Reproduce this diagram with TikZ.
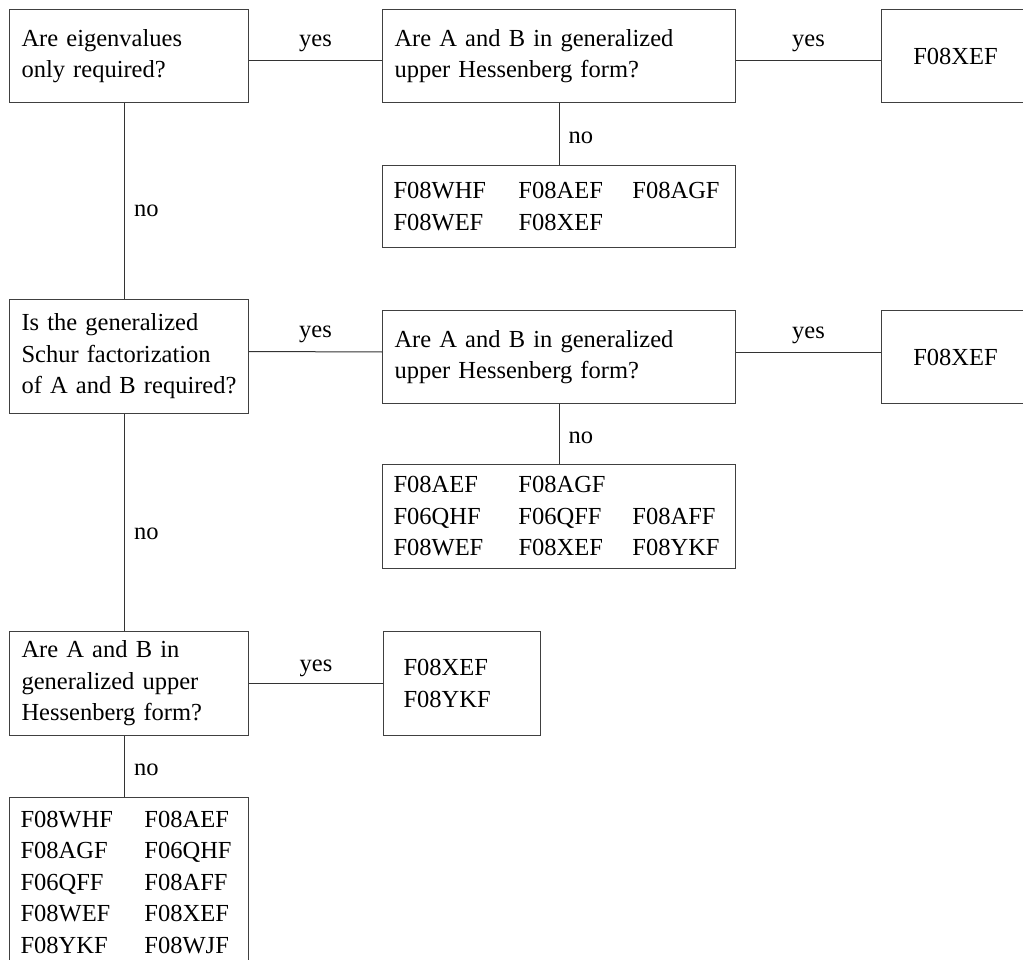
\documentclass[tikz,border=0pt]{standalone}
\usepackage{fontspec}
\setmainfont{Liberation Serif}
\newcommand\myfs{\fontsize{24.5}{31.5}\selectfont}
\begin{document}
\begin{tikzpicture}[x=1pt,y=-1pt,
  box/.style={draw=black!75, line width=1pt, anchor=north west, inner xsep=12pt, inner ysep=0pt, align=left, font=\myfs},
  lbl/.style={inner sep=0pt, font=\myfs},
  conn/.style={draw=black!80, line width=1pt}]
\useasboundingbox (0,0) rectangle (1023,960);
% row 1
\node[box, minimum height=93pt, text width=215pt] (q1) at (9,9) {Are eigenvalues\\only required?};
\node[box, minimum height=93pt, text width=329pt, inner xsep=12pt] (q2) at (382,9) {Are A and B in generalized\\upper Hessenberg form?};
\node[box, minimum height=93pt, text width=124pt, align=center] (r1) at (881,9) {F08XEF};
\node[box, minimum height=82pt, text width=331pt, inner xsep=11pt] (l1) at (382,165)
 {\makebox[125pt][l]{F08WHF}\makebox[114pt][l]{F08AEF}F08AGF\\
  \makebox[125pt][l]{F08WEF}\makebox[114pt][l]{F08XEF}};
% row 2
\node[box, minimum height=114pt, text width=215pt] (q3) at (9,299) {Is the generalized\\Schur factorization\\of A and B required?};
\node[box, minimum height=93pt, text width=329pt] (q4) at (382,310) {Are A and B in generalized\\upper Hessenberg form?};
\node[box, minimum height=93pt, text width=124pt, align=center] (r2) at (881,310) {F08XEF};
\node[box, minimum height=104pt, text width=331pt, inner xsep=11pt] (l2) at (382,464)
 {\makebox[125pt][l]{F08AEF}\makebox[114pt][l]{F08AGF}\\
  \makebox[125pt][l]{F06QHF}\makebox[114pt][l]{F06QFF}F08AFF\\
  \makebox[125pt][l]{F08WEF}\makebox[114pt][l]{F08XEF}F08YKF};
% row 3
\node[box, minimum height=104pt, text width=215pt] (q5) at (9,631) {Are A and B in\\generalized upper\\Hessenberg form?};
\node[box, minimum height=104pt, text width=117pt, inner xsep=20pt] (r3) at (383,631) {F08XEF\\F08YKF};
\node[box, minimum height=170pt, text width=217pt, inner xsep=11pt] (l3) at (9,797)
 {\makebox[124pt][l]{F08WHF}F08AEF\\
  \makebox[124pt][l]{F08AGF}F06QHF\\
  \makebox[124pt][l]{F06QFF}F08AFF\\
  \makebox[124pt][l]{F08WEF}F08XEF\\
  \makebox[124pt][l]{F08YKF}F08WJF};
% connectors
\draw[conn] ([yshift=-4.5pt]q1.east) -- node[lbl, yshift=17pt]{yes} ([yshift=-4.5pt]q2.west);
\draw[conn] ([yshift=-4.5pt]q2.east) -- node[lbl, yshift=17pt]{yes} ([yshift=-4.5pt]r1.west);
\draw[conn] (q2.south) -- node[lbl, pos=0.57, anchor=west, xshift=9pt]{no} (l1.north);
\draw[conn] ([xshift=-4.5pt]q1.south) -- node[lbl, pos=0.55, anchor=west, xshift=9pt]{no} ([xshift=-4.5pt]q3.north);
\draw[conn] ([yshift=5pt]q3.east) -- node[lbl, yshift=17pt]{yes} ([yshift=5pt]q4.west);
\draw[conn] ([yshift=5pt]q4.east) -- node[lbl, yshift=17pt]{yes} ([yshift=5pt]r2.west);
\draw[conn] (q4.south) -- node[lbl, pos=0.57, anchor=west, xshift=9pt]{no} (l2.north);
\draw[conn] ([xshift=-4.5pt]q3.south) -- node[lbl, pos=0.55, anchor=west, xshift=9pt]{no} ([xshift=-4.5pt]q5.north);
\draw[conn] (q5.east) -- node[lbl, yshift=15pt]{yes} (r3.west);
\draw[conn] ([xshift=-4.5pt]q5.south) -- node[lbl, pos=0.56, anchor=west, xshift=9pt]{no} ([xshift=-4.5pt]l3.north);
\end{tikzpicture}
\end{document}
